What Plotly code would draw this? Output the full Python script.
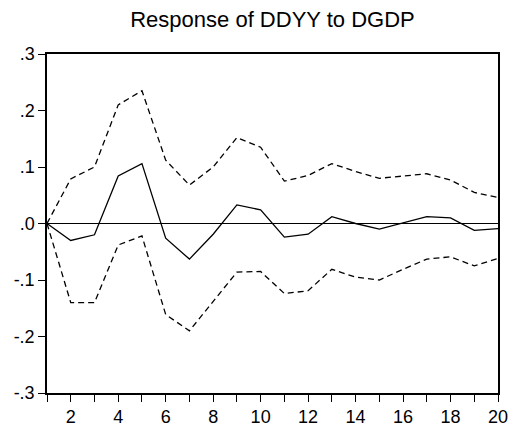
import plotly.graph_objects as go

periods = list(range(1, 21))
response = [0.0, -0.030, -0.020, 0.084, 0.106, -0.026, -0.063, -0.019, 0.033, 0.024,
            -0.024, -0.019, 0.012, 0.000, -0.010, 0.001, 0.012, 0.010, -0.012, -0.009]
upper = [0.0, 0.079, 0.100, 0.210, 0.235, 0.112, 0.068, 0.100, 0.152, 0.135,
         0.075, 0.085, 0.106, 0.092, 0.080, 0.084, 0.088, 0.077, 0.055, 0.046]
lower = [0.0, -0.140, -0.140, -0.038, -0.022, -0.161, -0.190, -0.138, -0.086, -0.085,
         -0.124, -0.119, -0.081, -0.095, -0.100, -0.081, -0.063, -0.059, -0.075, -0.062]

x_tickvals = list(range(1, 21))
x_ticktext = [str(v) if v % 2 == 0 else "" for v in x_tickvals]
y_tickvals = [0.3, 0.2, 0.1, 0.0, -0.1, -0.2, -0.3]
y_ticktext = [".3", ".2", ".1", ".0", "-.1", "-.2", "-.3"]

fig = go.Figure()
fig.add_trace(go.Scatter(x=periods, y=upper, mode="lines",
                         line=dict(color="black", width=1.3, dash="6px,4px")))
fig.add_trace(go.Scatter(x=periods, y=lower, mode="lines",
                         line=dict(color="black", width=1.3, dash="6px,4px")))
fig.add_trace(go.Scatter(x=periods, y=response, mode="lines",
                         line=dict(color="black", width=1.3)))

fig.add_hline(y=0, line=dict(color="black", width=1.2))

fig.update_layout(
    width=521, height=428,
    margin=dict(l=47, r=23, t=54, b=35, autoexpand=False),
    paper_bgcolor="white", plot_bgcolor="white",
    showlegend=False,
    font=dict(family="Liberation Sans, Arial, sans-serif", color="black", size=18),
    title=dict(text="Response of DDYY to DGDP", x=0.523, xanchor="center",
               y=0.954, yanchor="middle",
               font=dict(size=22, color="black")),
)
fig.update_xaxes(range=[1, 20], tickvals=x_tickvals, ticktext=x_ticktext,
                 ticks="outside", ticklen=7, tickcolor="black", tickwidth=1,
                 showgrid=False, zeroline=False, showline=True, linecolor="black",
                 linewidth=1.5, mirror=True, tickfont=dict(size=18), automargin=False)
fig.update_yaxes(range=[-0.3, 0.3], tickvals=y_tickvals, ticktext=y_ticktext,
                 ticks="outside", ticklen=7, tickcolor="black", tickwidth=1,
                 showgrid=False, zeroline=False, showline=True, linecolor="black",
                 linewidth=1.5, mirror=True, tickfont=dict(size=18), automargin=False)

fig.write_html("out.html")
